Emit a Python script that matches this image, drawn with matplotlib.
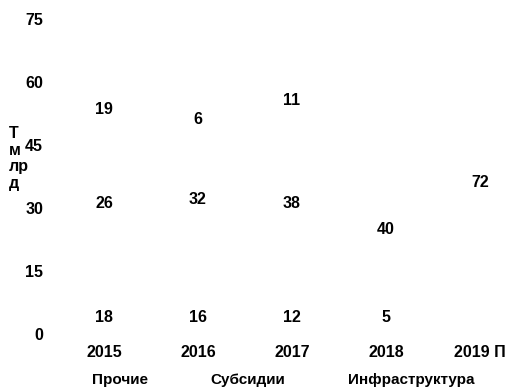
import matplotlib.pyplot as plt
import numpy as np

plt.rcParams['font.family'] = ['Liberation Sans', 'DejaVu Sans']
plt.rcParams['font.weight'] = 'bold'

years = ['2015', '2016', '2017', '2018', '2019 П']
names = ['Прочие', 'Субсидии', 'Инфраструктура']
prochie = [18, 16, 12, 5, 0]
subsidii = [26, 32, 38, 40, 72]
infra = [19, 6, 11, 0, 0]
yticks = [0, 15, 30, 45, 60, 75]

fig = plt.figure(figsize=(5.08, 3.9), dpi=100)
ax = fig.add_axes([57/508, 1-334/390, 1-57/508, (334-19)/390])

x = np.arange(len(years))
w = 0.6
#bars are white in the original, only the numbers show
b1 = ax.bar(x, prochie, w, color='white', label=names[0])
b2 = ax.bar(x, subsidii, w, bottom=prochie, color='white', label=names[1])
bot = np.array(prochie) + np.array(subsidii)
b3 = ax.bar(x, infra, w, bottom=bot, color='white', label=names[2])

fs = 11.5
#bottom series labels sit near the base
for xi, v in zip(x, prochie):
    if v:
        ax.annotate(str(v), (xi, 0), xytext=(0, 16), textcoords='offset pixels',
                    ha='center', va='center', fontsize=fs, fontweight='bold')
for bars, vals in ((b2, subsidii), (b3, infra)):
    ax.bar_label(bars, labels=[str(v) if v else '' for v in vals],
                 label_type='center', fontsize=fs, fontweight='bold')

ax.set_xlim(-0.5, (508-57)/94 - 0.5)
ax.set_ylim(0, 75)
ax.set_yticks(yticks)
ax.set_xticks(x)
ax.set_xticklabels(years)
ax.tick_params(length=0, labelsize=fs, pad=8)
ax.tick_params(axis='y', pad=10)
for s in ax.spines.values():
    s.set_visible(False)

fig.text(9/508, 1-158.5/390, 'Т\nм\nлр\nд', ha='left', va='center',
         fontsize=fs, fontweight='bold', linespacing=1.15)

fig.legend(loc='center', bbox_to_anchor=(264/508, 1-380/390), ncol=3,
           frameon=False, fontsize=11, handlelength=2, handletextpad=0.5,
           columnspacing=1.6)

fig.savefig('out.png', dpi=100)
